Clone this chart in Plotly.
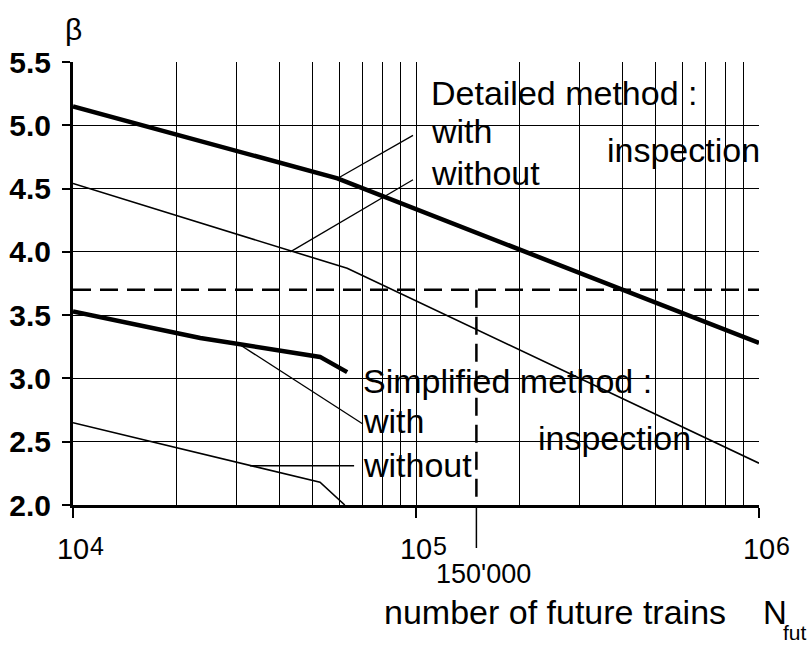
import math
import plotly.graph_objects as go

# Reliability index beta versus number of future trains (log scale)
detailed_with_n = [1e4, 59000, 1e6]
detailed_with_beta = [5.15, 4.58, 3.28]

detailed_without_n = [1e4, 63000, 1e6]
detailed_without_beta = [4.54, 3.87, 2.33]

simplified_with_n = [1e4, 23500, 52500, 63000]
simplified_with_beta = [3.53, 3.32, 3.17, 3.05]

simplified_without_n = [1e4, 52500, 62000]
simplified_without_beta = [2.65, 2.18, 2.00]

# target reliability level and the reference traffic volume
beta_target = 3.7
n_ref = 150000

# leader lines joining the curves to their labels
leader_det_with_n = [59000, 98000]
leader_det_with_beta = [4.58, 4.92]
leader_det_without_n = [43000, 98000]
leader_det_without_beta = [4.00, 4.57]
leader_simp_with_n = [30500, 70000]
leader_simp_with_beta = [3.27, 2.64]
leader_simp_without_n = [32800, 66000]
leader_simp_without_beta = [2.31, 2.31]

x_tick_vals = [1e4, 1e5, 1e6]
x_tick_base = ["10", "10", "10"]
x_tick_exp = ["4", "5", "6"]
x_minor_vals = [m * 10 ** e for e in (4, 5) for m in range(2, 10)]
y_tick_vals = [2.0, 2.5, 3.0, 3.5, 4.0, 4.5, 5.0, 5.5]
y_tick_text = ["2.0", "2.5", "3.0", "3.5", "4.0", "4.5", "5.0", "5.5"]

FONT = "Liberation Sans, Arial, Helvetica, sans-serif"
BLACK = "#000000"

fig = go.Figure()


def add_line(xs, ys, width, dash="solid"):
    fig.add_trace(go.Scatter(
        x=xs, y=ys, mode="lines",
        line=dict(color=BLACK, width=width, dash=dash),
        hoverinfo="skip", showlegend=False,
    ))


add_line(detailed_with_n, detailed_with_beta, 4.5)
add_line(detailed_without_n, detailed_without_beta, 1.6)
add_line(simplified_with_n, simplified_with_beta, 4.5)
add_line(simplified_without_n, simplified_without_beta, 1.6)

add_line([1e4, 1e6], [beta_target, beta_target], 2.5, dash="18px,9px")
add_line([n_ref, n_ref], [beta_target, 2.0], 2.5, dash="18px,9px")

add_line(leader_det_with_n, leader_det_with_beta, 1.3)
add_line(leader_det_without_n, leader_det_without_beta, 1.3)
add_line(leader_simp_with_n, leader_simp_with_beta, 1.3)
add_line(leader_simp_without_n, leader_simp_without_beta, 1.3)

# plot-area geometry in pixels, used to place free text
L, R, T, B = 73, 759, 62, 505
W, H = R - L, B - T


def px(x):
    return (x - L) / W


def py(y):
    return (B - y) / H


# long tick below the axis at the reference traffic volume
fig.add_shape(type="line", xref="x", yref="paper",
              x0=n_ref, x1=n_ref, y0=0, y1=py(548),
              line=dict(color=BLACK, width=1.5))

# decade exponents sitting just right of each "10" tick label
for v, e in zip(x_tick_vals, x_tick_exp):
    fig.add_annotation(
        text=e, xref="x", yref="paper",
        x=math.log10(v), xshift=24, y=py(555 - 0.3465 * 25),
        xanchor="center", yanchor="middle", showarrow=False,
        font=dict(family=FONT, size=25, color=BLACK),
    )

texts = [
    ("Detailed method :", 430, 105, 34),
    ("with", 430, 143, 34),
    ("without", 430, 185, 34),
    ("inspection", 606, 162, 34),
    ("Simplified method :", 362, 393, 34),
    ("with", 362, 433, 34),
    ("without", 362, 477, 34),
    ("inspection", 537, 450, 34),
    ("number of future trains", 383, 624, 34),
    ("N", 762, 624, 33),
    ("fut", 782, 640, 21),
]
for txt, x, base, fs in texts:
    fig.add_annotation(
        text=txt, xref="paper", yref="paper",
        x=px(x - 1), y=py(base - 0.3465 * fs),
        xanchor="left", yanchor="middle", showarrow=False,
        font=dict(family=FONT, size=fs, color=BLACK),
    )

fig.add_annotation(
    text="150'000", xref="paper", yref="paper",
    x=px(483), y=py(583 - 0.3465 * 27),
    xanchor="center", yanchor="middle", showarrow=False,
    font=dict(family=FONT, size=27, color=BLACK),
)
fig.add_annotation(
    text="β", xref="paper", yref="paper",
    x=px(73), y=py(30),
    xanchor="center", yanchor="middle", showarrow=False,
    font=dict(family=FONT, size=30, color=BLACK),
)

fig.update_layout(
    width=808, height=648,
    margin=dict(l=L, r=808 - R, t=T, b=648 - B),
    paper_bgcolor="white", plot_bgcolor="white",
    font=dict(family=FONT, color=BLACK),
    showlegend=False,
)
fig.update_xaxes(
    type="log", range=[4, 6], automargin=False,
    tickvals=x_tick_vals, ticktext=x_tick_base,
    tickfont=dict(family=FONT, size=29, color=BLACK),
    ticks="outside", ticklen=10, tickwidth=2, tickcolor=BLACK,
    ticklabelstandoff=6,
    showline=True, linewidth=3, linecolor=BLACK,
    showgrid=True, gridcolor=BLACK, gridwidth=1.3,
    minor=dict(tickvals=x_minor_vals, showgrid=True,
               gridcolor=BLACK, gridwidth=1.3, ticks=""),
    zeroline=False,
)
fig.update_yaxes(
    range=[2.0, 5.5], automargin=False,
    tickvals=y_tick_vals, ticktext=y_tick_text,
    tickfont=dict(family=FONT, size=30, color=BLACK, weight="bold"),
    ticks="outside", ticklen=8, tickwidth=2, tickcolor=BLACK,
    ticklabelstandoff=5,
    showline=True, linewidth=3, linecolor=BLACK,
    showgrid=True, gridcolor=BLACK, gridwidth=1.3,
    zeroline=False,
)

fig.write_html("out.html")
